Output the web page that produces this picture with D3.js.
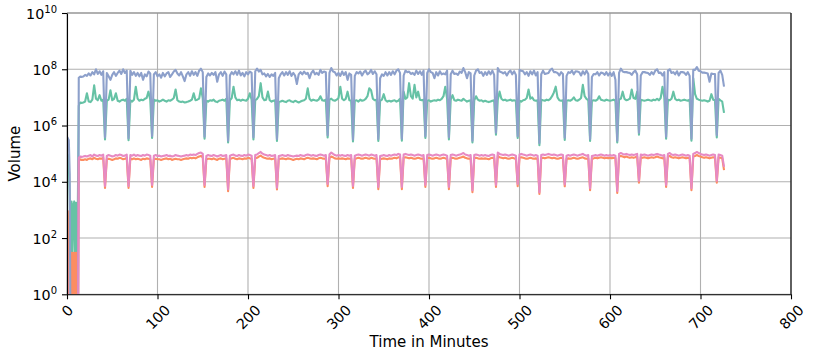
<!DOCTYPE html>
<html><head><meta charset="utf-8">
<script src="https://cdn.jsdelivr.net/npm/d3@7"></script>
<style>
body{margin:0;background:#fff}
svg{display:block}
text{font-family:"DejaVu Sans",sans-serif;fill:#000}
</style>
</head><body>
<svg id="chart" width="814" height="358"></svg>
<script>
// ---------------- DATA ----------------
const minutes = [
0,1,2,3,4,5,6,7,8,9,10,11,12,13,14,15,16,
18,20,22,24,26,28,30,32,34,36,38,40,42,44,46,48,50,52,54,56,58,60,62,64,66,68,70,72,74,76,78,80,
82,84,86,88,90,92,94,96,98,100,102,104,106,108,110,112,114,116,118,120,122,124,126,128,130,132,134,136,138,140,
142,144,146,148,150,152,154,156,158,160,162,164,166,168,170,172,174,176,178,180,182,184,186,188,190,192,194,196,198,200,
202,204,206,208,210,212,214,216,218,220,222,224,226,228,230,232,234,236,238,240,242,244,246,248,250,252,254,256,258,260,
262,264,266,268,270,272,274,276,278,280,282,284,286,288,290,292,294,296,298,300,302,304,306,308,310,312,314,316,318,320,
322,324,326,328,330,332,334,336,338,340,342,344,346,348,350,352,354,356,358,360,362,364,366,368,370,372,374,376,378,380,
382,384,386,388,390,392,394,396,398,400,402,404,406,408,410,412,414,416,418,420,422,424,426,428,430,432,434,436,438,440,
442,444,446,448,450,452,454,456,458,460,462,464,466,468,470,472,474,476,478,480,482,484,486,488,490,492,494,496,498,500,
502,504,506,508,510,512,514,516,518,520,522,524,526,528,530,532,534,536,538,540,542,544,546,548,550,552,554,556,558,560,
562,564,566,568,570,572,574,576,578,580,582,584,586,588,590,592,594,596,598,600,602,604,606,608,610,612,614,616,618,620,
622,624,626,628,630,632,634,636,638,640,642,644,646,648,650,652,654,656,658,660,662,664,666,668,670,672,674,676,678,680,
682,684,686,688,690,692,694,696,698,700,702,704,706,708,710,712,714,716,718,720,722,724,726
];

const seriesGreen = [
1.0e5,9.0e4,4.0e4,3.0e3,20,2.0e3,20,1.5e3,2.0e3,20,1.8e3,20,2.0e3,5.0e6,6.3e6,6.6e6,6.3e6,
6.6e6,7.1e6,1.4e7,7.1e6,6.8e6,8.3e6,2.7e7,9.0e6,7.9e6,1.2e7,7.6e6,8.3e6,
3.2e5,
7.6e6,8.3e6,1.8e7,7.9e6,8.9e6,1.4e7,7.6e6,7.1e6,7.9e6,8.3e6,7.6e6,8.9e6,
3.0e5,
7.9e6,7.1e6,8.3e6,2.4e7,9.0e6,7.6e6,8.3e6,7.9e6,8.9e6,9.5e6,1.6e7,8.3e6,
3.6e5,
8.3e6,7.6e6,7.9e6,7.1e6,7.6e6,8.3e6,7.6e6,7.1e6,7.9e6,7.6e6,8.3e6,9.5e6,1.9e7,7.9e6,7.1e6,6.8e6,7.1e6,6.6e6,6.8e6,7.1e6,7.6e6,8.3e6,1.4e7,7.9e6,8.3e6,9.0e6,2.1e7,9.5e6,
3.4e5,
7.6e6,7.1e6,7.9e6,7.6e6,8.3e6,7.1e6,6.8e6,7.6e6,7.9e6,8.3e6,7.6e6,8.9e6,
2.5e5,
7.9e6,9.5e6,2.4e7,1.0e7,7.9e6,8.3e6,7.6e6,8.3e6,7.9e6,7.6e6,8.9e6,1.4e7,8.3e6,
3.2e5,
7.9e6,8.9e6,1.1e7,3.2e7,1.0e7,7.9e6,8.3e6,1.6e7,7.9e6,7.1e6,7.6e6,7.9e6,
2.8e5,
6.8e6,7.1e6,7.6e6,7.1e6,6.8e6,7.6e6,7.9e6,7.1e6,6.8e6,7.6e6,7.1e6,6.6e6,7.1e6,7.6e6,7.9e6,9.0e6,2.1e7,8.9e6,7.6e6,8.3e6,7.9e6,7.6e6,8.3e6,1.1e7,7.9e6,7.6e6,8.3e6,
3.8e5,
8.3e6,9.0e6,7.9e6,7.6e6,8.3e6,9.5e6,2.4e7,9.0e6,7.9e6,8.9e6,1.6e7,7.9e6,7.6e6,
2.7e5,
7.6e6,7.9e6,7.1e6,8.3e6,7.6e6,7.9e6,8.9e6,1.1e7,2.1e7,1.8e7,9.0e6,7.9e6,8.3e6,
2.8e5,
7.6e6,8.3e6,1.3e7,7.9e6,7.1e6,7.6e6,7.1e6,7.6e6,7.9e6,7.1e6,7.6e6,8.9e6,
2.9e5,
1.6e7,8.9e6,1.0e7,3.2e7,1.1e7,9.0e6,2.8e7,1.0e7,1.6e7,8.3e6,7.9e6,8.3e6,
3.6e5,
7.6e6,7.9e6,7.1e6,7.6e6,7.9e6,7.6e6,8.3e6,7.9e6,8.9e6,1.1e7,2.4e7,9.0e6,
3.2e5,
8.3e6,1.2e7,7.9e6,7.6e6,8.3e6,7.9e6,7.6e6,8.9e6,7.9e6,7.1e6,7.6e6,7.9e6,
2.5e5,
7.9e6,1.1e7,8.3e6,7.6e6,7.9e6,7.1e6,7.6e6,7.1e6,6.8e6,7.1e6,7.6e6,7.9e6,
4.7e5,
8.3e6,1.6e7,9.0e6,7.9e6,8.3e6,7.6e6,7.9e6,8.3e6,7.6e6,7.9e6,7.6e6,
3.6e5,
7.6e6,7.1e6,7.9e6,8.3e6,9.5e6,1.9e7,9.0e6,1.0e7,7.9e6,7.6e6,7.9e6,
2.0e5,
8.3e6,7.9e6,7.6e6,8.3e6,7.9e6,8.9e6,1.1e7,1.5e7,2.4e7,1.0e7,7.9e6,7.6e6,7.9e6,
3.1e5,
7.6e6,7.9e6,7.6e6,8.3e6,1.0e7,7.9e6,7.6e6,8.3e6,9.5e6,2.8e7,1.1e7,8.9e6,7.9e6,
2.8e5,
7.6e6,7.9e6,7.6e6,8.3e6,1.1e7,8.3e6,7.9e6,7.6e6,8.3e6,7.9e6,7.6e6,7.9e6,8.3e6,7.6e6,
2.5e5,
8.3e6,9.0e6,1.6e7,8.9e6,7.9e6,8.3e6,9.0e6,1.9e7,9.5e6,8.9e6,1.6e7,
4.7e5,
8.3e6,7.9e6,7.6e6,7.9e6,8.3e6,7.9e6,7.6e6,8.3e6,7.9e6,8.9e6,7.9e6,9.5e6,2.4e7,1.0e7,
3.4e5,
8.3e6,7.9e6,9.0e6,1.6e7,8.9e6,7.9e6,8.3e6,7.6e6,7.9e6,8.3e6,7.9e6,7.6e6,8.3e6,
2.9e5,
4.8e7,1.3e7,8.9e6,8.3e6,7.9e6,7.6e6,7.9e6,7.6e6,7.1e6,7.6e6,1.3e7,8.3e6,7.9e6,
3.8e5,
8.9e6,7.9e6,7.1e6,2.8e6
];

const seriesOrange = [
8.0e2,9.0e2,0,0,0,30,0,30,0,30,0,30,0,5.6e4,6.0e4,6.3e4,6.0e4,
6.0e4,6.3e4,6.0e4,6.6e4,6.8e4,6.3e4,7.1e4,6.6e4,6.3e4,6.8e4,6.6e4,7.1e4,
6.0e3,
6.3e4,6.6e4,6.3e4,6.0e4,6.3e4,6.8e4,6.6e4,7.1e4,6.8e4,6.3e4,6.6e4,7.1e4,
6.0e3,
6.8e4,6.3e4,6.8e4,6.3e4,6.6e4,6.3e4,6.0e4,6.6e4,6.3e4,6.8e4,6.6e4,6.3e4,
6.5e3,
6.3e4,6.6e4,6.3e4,6.3e4,6.0e4,6.3e4,6.6e4,6.8e4,6.3e4,6.6e4,6.0e4,6.3e4,6.6e4,6.3e4,6.3e4,6.0e4,6.3e4,6.6e4,6.8e4,6.6e4,7.1e4,6.8e4,7.1e4,6.8e4,7.4e4,7.9e4,8.3e4,7.4e4,
6.5e3,
6.3e4,6.6e4,6.6e4,6.3e4,6.8e4,6.3e4,6.0e4,6.6e4,6.8e4,6.3e4,6.6e4,6.8e4,
4.6e3,
6.6e4,6.8e4,7.1e4,6.6e4,6.3e4,6.8e4,6.6e4,6.3e4,6.8e4,6.6e4,7.1e4,6.8e4,6.6e4,
6.0e3,
6.8e4,7.1e4,7.9e4,8.5e4,7.6e4,7.1e4,6.8e4,6.6e4,6.8e4,6.3e4,6.6e4,6.8e4,
5.3e3,
6.3e4,6.6e4,6.8e4,6.6e4,6.3e4,6.8e4,6.6e4,6.3e4,6.0e4,6.3e4,6.6e4,6.3e4,6.8e4,6.6e4,6.3e4,6.8e4,7.1e4,6.8e4,6.6e4,6.8e4,6.6e4,6.3e4,6.8e4,7.1e4,6.8e4,6.6e4,6.8e4,
7.0e3,
7.1e4,7.9e4,7.4e4,6.8e4,6.6e4,6.8e4,6.6e4,6.8e4,6.6e4,6.3e4,6.8e4,6.6e4,6.8e4,
6.0e3,
6.6e4,6.8e4,7.1e4,6.8e4,6.6e4,6.8e4,7.1e4,6.8e4,6.6e4,7.1e4,6.8e4,6.6e4,6.8e4,
5.5e3,
6.3e4,6.6e4,6.8e4,6.6e4,6.3e4,6.8e4,6.6e4,6.8e4,7.1e4,6.8e4,7.4e4,7.1e4,
5.5e3,
7.1e4,7.4e4,7.1e4,6.8e4,7.1e4,6.8e4,6.6e4,6.8e4,7.1e4,6.8e4,6.6e4,6.8e4,
6.5e3,
6.8e4,7.1e4,6.8e4,6.6e4,6.8e4,7.1e4,6.8e4,6.6e4,6.8e4,7.1e4,6.8e4,6.6e4,
5.5e3,
6.8e4,7.1e4,6.8e4,6.6e4,6.8e4,7.1e4,7.4e4,7.9e4,7.1e4,6.8e4,6.6e4,6.8e4,
4.3e3,
6.8e4,7.1e4,6.8e4,6.6e4,6.8e4,6.6e4,6.8e4,6.6e4,6.3e4,6.8e4,7.1e4,6.8e4,
6.5e3,
8.3e4,7.4e4,7.1e4,6.8e4,7.1e4,6.8e4,6.6e4,6.8e4,7.1e4,6.8e4,6.6e4,
7.0e3,
7.1e4,7.4e4,7.1e4,6.8e4,6.6e4,6.8e4,7.1e4,6.8e4,6.6e4,6.8e4,6.6e4,
3.7e3,
6.8e4,7.1e4,6.8e4,7.1e4,7.4e4,7.1e4,6.8e4,7.1e4,6.8e4,6.6e4,6.8e4,7.1e4,6.8e4,
6.9e3,
6.6e4,6.8e4,6.6e4,6.8e4,7.1e4,6.8e4,6.6e4,6.8e4,7.1e4,7.4e4,6.8e4,6.6e4,6.8e4,
5.0e3,
6.6e4,6.8e4,7.1e4,6.8e4,7.1e4,7.4e4,7.1e4,6.8e4,7.1e4,6.8e4,7.1e4,6.8e4,7.1e4,6.8e4,
4.0e3,
7.9e4,8.3e4,7.9e4,7.4e4,7.9e4,7.4e4,7.1e4,7.4e4,7.1e4,7.4e4,7.9e4,
9.3e3,
7.4e4,7.1e4,7.4e4,7.1e4,6.8e4,7.1e4,7.4e4,7.1e4,7.4e4,7.9e4,7.4e4,7.1e4,6.8e4,7.1e4,
6.5e3,
7.9e4,8.3e4,7.4e4,7.1e4,7.4e4,7.1e4,6.8e4,7.1e4,7.4e4,7.1e4,6.8e4,7.1e4,6.8e4,
5.0e3,
7.9e4,8.3e4,8.9e4,8.3e4,7.9e4,7.4e4,7.1e4,7.4e4,7.1e4,6.8e4,7.1e4,7.4e4,7.1e4,
9.3e3,
7.4e4,7.1e4,6.8e4,2.6e4
];

const seriesBlue = [
4.0e5,3.5e5,3.0e5,2.0e4,0,0,0,0,0,0,0,0,0,5.0e7,5.3e7,5.5e7,5.3e7,
5.5e7,6.3e7,5.8e7,7.1e7,6.0e7,7.9e7,6.6e7,1.0e8,6.8e7,8.5e7,6.3e7,8.5e7,
3.8e5,
7.4e7,5.6e7,4.2e7,6.3e7,7.9e7,5.8e7,7.4e7,8.9e7,6.8e7,1.0e8,7.4e7,8.9e7,
3.5e5,
8.9e7,6.3e7,7.9e7,5.8e7,7.4e7,5.6e7,7.4e7,4.2e7,6.6e7,5.6e7,8.3e7,7.1e7,
4.2e5,
6.6e7,7.9e7,5.6e7,6.6e7,5.0e7,7.4e7,5.6e7,7.1e7,7.9e7,5.3e7,6.6e7,8.3e7,9.5e7,7.1e7,6.0e7,7.9e7,5.6e7,3.8e7,6.6e7,7.9e7,5.8e7,8.5e7,6.3e7,7.9e7,5.8e7,8.9e7,1.05e8,7.9e7,
4.0e5,
5.3e7,7.1e7,6.0e7,7.4e7,6.3e7,7.9e7,3.6e7,6.6e7,7.9e7,5.8e7,8.3e7,6.6e7,
2.9e5,
6.0e7,7.9e7,6.6e7,8.5e7,6.3e7,8.9e7,6.0e7,7.4e7,5.6e7,7.9e7,6.6e7,8.3e7,7.4e7,
3.8e5,
8.5e7,1.05e8,8.3e7,9.5e7,6.6e7,7.1e7,5.6e7,6.8e7,5.3e7,6.6e7,5.8e7,7.4e7,
3.3e5,
4.8e7,6.6e7,7.9e7,6.0e7,7.9e7,6.3e7,8.5e7,5.8e7,7.4e7,6.0e7,3.0e7,6.6e7,7.9e7,6.6e7,8.3e7,6.8e7,7.4e7,4.8e7,7.4e7,9.0e7,6.6e7,7.4e7,6.3e7,9.5e7,7.4e7,8.3e7,7.9e7,
4.5e5,
7.4e7,1.1e8,8.3e7,7.9e7,6.0e7,7.4e7,5.8e7,8.3e7,6.3e7,7.9e7,4.2e7,7.1e7,6.3e7,
3.2e5,
5.8e7,7.9e7,7.1e7,8.3e7,6.0e7,7.9e7,8.9e7,6.6e7,7.4e7,9.5e7,6.8e7,8.5e7,6.6e7,
3.3e5,
4.8e7,6.6e7,5.8e7,7.9e7,6.0e7,7.9e7,6.3e7,8.5e7,6.6e7,8.9e7,1.0e8,7.4e7,
3.4e5,
6.0e7,8.9e7,7.9e7,8.3e7,6.8e7,7.4e7,6.3e7,8.9e7,6.8e7,8.5e7,6.3e7,8.9e7,
4.2e5,
7.4e7,1.0e8,7.9e7,7.4e7,4.8e7,7.9e7,6.0e7,8.5e7,6.6e7,7.1e7,6.6e7,8.9e7,
3.8e5,
6.6e7,8.9e7,6.8e7,7.1e7,6.3e7,8.3e7,7.4e7,1.1e8,7.9e7,4.8e7,7.9e7,7.1e7,
2.9e5,
6.0e7,8.9e7,1.0e8,7.4e7,7.9e7,5.8e7,7.9e7,6.3e7,8.5e7,6.6e7,8.9e7,6.3e7,
5.5e5,
1.1e8,8.3e7,7.9e7,7.1e7,7.9e7,6.0e7,7.9e7,8.9e7,6.6e7,8.5e7,6.3e7,
4.2e5,
9.5e7,8.9e7,8.5e7,6.6e7,7.9e7,5.8e7,8.5e7,6.6e7,8.9e7,6.0e7,7.9e7,
2.4e5,
6.6e7,8.9e7,6.8e7,7.1e7,7.4e7,9.5e7,1.05e8,7.9e7,7.9e7,7.4e7,6.0e7,7.9e7,6.8e7,
3.7e5,
5.8e7,7.9e7,7.4e7,8.9e7,6.6e7,8.5e7,8.3e7,7.9e7,6.0e7,8.5e7,6.6e7,8.9e7,6.8e7,
3.3e5,
5.3e7,6.8e7,6.6e7,7.9e7,6.0e7,7.6e7,7.4e7,6.3e7,7.9e7,6.0e7,7.6e7,5.8e7,7.9e7,4.2e7,
2.9e5,
7.4e7,1.05e8,8.3e7,7.9e7,7.9e7,7.6e7,7.4e7,6.3e7,7.9e7,8.9e7,6.6e7,
5.5e5,
6.0e7,7.9e7,7.9e7,7.6e7,7.4e7,6.3e7,7.9e7,6.6e7,8.9e7,1.0e8,7.4e7,7.6e7,6.0e7,7.9e7,
4.0e5,
8.9e7,1.0e8,7.4e7,7.9e7,6.6e7,8.5e7,6.0e7,7.9e7,7.9e7,7.6e7,6.3e7,7.9e7,5.8e7,
3.4e5,
9.5e7,9.5e7,1.2e8,8.9e7,8.5e7,7.6e7,7.6e7,7.4e7,7.1e7,3.6e7,7.1e7,6.8e7,6.8e7,
4.5e5,
7.4e7,8.9e7,6.3e7,2.4e7
];

const seriesPink = [
5.0e2,0,0,0,0,0,0,0,0,0,0,0,0,7.1e4,7.6e4,7.9e4,7.6e4,
7.9e4,8.3e4,7.9e4,8.5e4,8.9e4,7.9e4,9.3e4,8.5e4,8.3e4,8.9e4,8.5e4,9.3e4,
7.1e3,
8.3e4,8.9e4,8.5e4,7.9e4,8.3e4,8.9e4,8.5e4,9.3e4,8.9e4,8.3e4,8.5e4,9.3e4,
7.1e3,
8.9e4,8.5e4,9.3e4,8.3e4,8.9e4,8.5e4,8.3e4,8.9e4,8.5e4,9.3e4,8.9e4,8.5e4,
7.7e3,
8.5e4,8.9e4,8.3e4,8.5e4,7.9e4,8.3e4,8.5e4,8.9e4,8.3e4,8.5e4,7.9e4,8.3e4,8.9e4,8.5e4,8.3e4,7.9e4,8.3e4,8.5e4,8.9e4,8.5e4,9.3e4,8.9e4,9.3e4,8.9e4,9.8e4,1.05e5,1.1e5,9.8e4,
7.7e3,
8.3e4,8.9e4,8.5e4,8.3e4,8.9e4,8.5e4,7.9e4,8.5e4,8.9e4,8.3e4,8.5e4,8.9e4,
5.4e3,
8.5e4,8.9e4,9.3e4,8.5e4,8.3e4,8.9e4,8.5e4,8.3e4,8.9e4,8.5e4,9.3e4,8.9e4,8.5e4,
7.1e3,
8.9e4,9.3e4,1.05e5,1.15e5,1.0e5,9.3e4,8.9e4,8.5e4,8.9e4,8.3e4,8.5e4,8.9e4,
6.2e3,
8.3e4,8.5e4,8.9e4,8.5e4,8.3e4,8.9e4,8.5e4,8.3e4,7.9e4,8.3e4,8.5e4,8.3e4,8.9e4,8.5e4,8.3e4,8.9e4,9.3e4,8.9e4,8.5e4,8.9e4,8.5e4,8.3e4,8.9e4,9.3e4,8.9e4,8.5e4,8.9e4,
8.3e3,
9.3e4,1.1e5,9.8e4,8.9e4,8.5e4,8.9e4,8.5e4,8.9e4,8.5e4,8.3e4,8.9e4,8.5e4,8.9e4,
7.1e3,
8.5e4,8.9e4,9.3e4,8.9e4,8.5e4,8.9e4,9.3e4,8.9e4,8.5e4,9.3e4,8.9e4,8.5e4,8.9e4,
6.5e3,
8.3e4,8.5e4,8.9e4,8.5e4,8.3e4,8.9e4,8.5e4,8.9e4,9.3e4,8.9e4,9.8e4,9.3e4,
6.5e3,
9.3e4,9.8e4,9.3e4,8.9e4,9.3e4,8.9e4,8.5e4,8.9e4,9.3e4,8.9e4,8.5e4,8.9e4,
7.7e3,
8.9e4,9.3e4,8.9e4,8.5e4,8.9e4,9.3e4,8.9e4,8.5e4,8.9e4,9.3e4,8.9e4,8.5e4,
6.5e3,
8.9e4,9.3e4,8.9e4,8.5e4,8.9e4,9.3e4,9.8e4,1.05e5,9.3e4,8.9e4,8.5e4,8.9e4,
5.0e3,
8.9e4,9.3e4,8.9e4,8.5e4,8.9e4,8.5e4,8.9e4,8.5e4,8.3e4,8.9e4,9.3e4,8.9e4,
7.7e3,
1.1e5,9.8e4,9.3e4,8.9e4,9.3e4,8.9e4,8.5e4,8.9e4,9.3e4,8.9e4,8.5e4,
8.3e3,
9.3e4,9.8e4,9.3e4,8.9e4,8.5e4,8.9e4,9.3e4,8.9e4,8.5e4,8.9e4,8.5e4,
4.3e3,
8.9e4,9.3e4,8.9e4,9.3e4,9.8e4,9.3e4,8.9e4,9.3e4,8.9e4,8.5e4,8.9e4,9.3e4,8.9e4,
8.1e3,
8.5e4,8.9e4,8.5e4,8.9e4,9.3e4,8.9e4,8.5e4,8.9e4,9.3e4,9.8e4,8.9e4,8.5e4,8.9e4,
5.9e3,
8.3e4,8.5e4,8.9e4,8.5e4,8.9e4,9.3e4,8.9e4,8.5e4,8.9e4,8.5e4,8.9e4,8.5e4,8.9e4,8.5e4,
4.7e3,
9.8e4,1.05e5,9.8e4,9.3e4,9.8e4,9.3e4,8.9e4,9.3e4,8.9e4,9.3e4,9.8e4,
1.1e4,
9.3e4,8.9e4,9.3e4,8.9e4,8.5e4,8.9e4,9.3e4,8.9e4,9.3e4,9.8e4,9.3e4,8.9e4,8.5e4,8.9e4,
7.7e3,
9.8e4,1.05e5,9.3e4,8.9e4,9.3e4,8.9e4,8.5e4,8.9e4,9.3e4,8.9e4,8.5e4,8.9e4,8.5e4,
5.9e3,
9.8e4,1.05e5,1.15e5,1.05e5,9.8e4,9.3e4,8.9e4,9.3e4,8.9e4,8.5e4,8.9e4,9.3e4,8.9e4,
1.1e4,
9.3e4,8.9e4,8.5e4,3.4e4
];

const seriesColors = ["#66c2a5", "#fc8d62", "#8da0cb", "#e78ac3"];
const xTickValues = [0, 100, 200, 300, 400, 500, 600, 700, 800];
const yTickValues = [1e0, 1e2, 1e4, 1e6, 1e8, 1e10];
const yTickExponents = ["0", "2", "4", "6", "8", "10"];
const xAxisTitle = "Time in Minutes";
const yAxisTitle = "Volume";

// ---------------- CHART ----------------
const svg = d3.select("#chart");
const L = 67, R = 791, T = 13, B = 294.3;
const FS = 14.3, TICK = 5, PAD = 5;
const x = d3.scaleLinear().domain([0, 800]).range([L, R]);
const y = d3.scaleLog().domain([1, 1e10]).range([B, T]);

const series = [seriesGreen, seriesOrange, seriesBlue, seriesPink];
series.forEach((s, i) => { if (s.length !== minutes.length) console.error("length mismatch", i, s.length, minutes.length); });

// grid
const grid = svg.append("g");
grid.selectAll("line.gx").data(xTickValues).join("line")
  .attr("x1", d => x(d)).attr("x2", d => x(d)).attr("y1", T).attr("y2", B)
  .attr("stroke", "#b0b0b0").attr("stroke-width", 1.1);
grid.selectAll("line.gy").data(yTickValues).join("line")
  .attr("y1", d => y(d)).attr("y2", d => y(d)).attr("x1", L).attr("x2", R)
  .attr("stroke", "#b0b0b0").attr("stroke-width", 1.1);

// lines
svg.append("defs").append("clipPath").attr("id", "clip")
  .append("rect").attr("x", L).attr("y", T).attr("width", R - L).attr("height", B - T);
const line = d3.line()
  .x(d => x(d[0]))
  .y(d => y(Math.max(d[1], 1e-3)));
const plot = svg.append("g").attr("clip-path", "url(#clip)");
series.forEach((s, i) => {
  const pts = minutes.map((m, k) => [m, s[k]]);
  plot.append("path").datum(pts).attr("d", line)
    .attr("fill", "none").attr("stroke", seriesColors[i])
    .attr("stroke-width", 2.1).attr("stroke-linejoin", "round");
});

// spines
svg.append("line").attr("x1", L).attr("x2", R).attr("y1", T).attr("y2", T).attr("stroke", "#8a8a8a").attr("stroke-width", 1.1);
svg.append("line").attr("x1", R).attr("x2", R).attr("y1", T).attr("y2", B).attr("stroke", "#000").attr("stroke-width", 1.1);

// axes
const xAxis = d3.axisBottom(x).tickValues(xTickValues).tickSize(TICK).tickSizeOuter(0).tickFormat(d3.format("d"));
const gx = svg.append("g").attr("transform", `translate(0,${B})`).call(xAxis);
gx.attr("font-family", null).attr("font-size", null);
gx.select(".domain").attr("stroke", "#000").attr("stroke-width", 1.1);
gx.selectAll(".tick line").attr("stroke", "#000").attr("stroke-width", 1.1);
gx.selectAll(".tick text").attr("font-size", FS + "px").attr("fill", "#000")
  .attr("text-anchor", "middle").attr("dy", null).attr("y", 0)
  .attr("dominant-baseline", "central")
  .each(function() {
    const w = this.getComputedTextLength();
    const yc = TICK + PAD - 0.5 + (w + 0.73 * FS) / (2 * Math.SQRT2);
    d3.select(this).attr("transform", `translate(0,${yc}) rotate(-45)`);
  });

const yAxis = d3.axisLeft(y).tickValues(yTickValues).tickSize(TICK).tickSizeOuter(0).tickFormat(() => "");
const gy = svg.append("g").attr("transform", `translate(${L},0)`).call(yAxis);
gy.attr("font-family", null).attr("font-size", null);
gy.select(".domain").attr("stroke", "#000").attr("stroke-width", 1.1);
gy.selectAll(".tick line").attr("stroke", "#000").attr("stroke-width", 1.1);
gy.selectAll(".tick text").each(function(d, i) {
  const t = d3.select(this).attr("x", -(TICK + PAD)).attr("dy", null).attr("y", 5.2)
    .attr("text-anchor", "end").attr("font-size", FS + "px").attr("fill", "#000");
  t.text("");
  t.append("tspan").text("10");
  t.append("tspan").attr("font-size", (0.7 * FS).toFixed(1) + "px").attr("dy", -5.8).text(yTickExponents[i]);
});

// titles
svg.append("text").attr("x", (L + R) / 2).attr("y", 347).attr("text-anchor", "middle")
  .attr("font-size", "15px").text(xAxisTitle);
svg.append("text").attr("transform", `translate(20,${(T + B) / 2}) rotate(-90)`)
  .attr("text-anchor", "middle").attr("font-size", "15px").text(yAxisTitle);
</script>
</body></html>
